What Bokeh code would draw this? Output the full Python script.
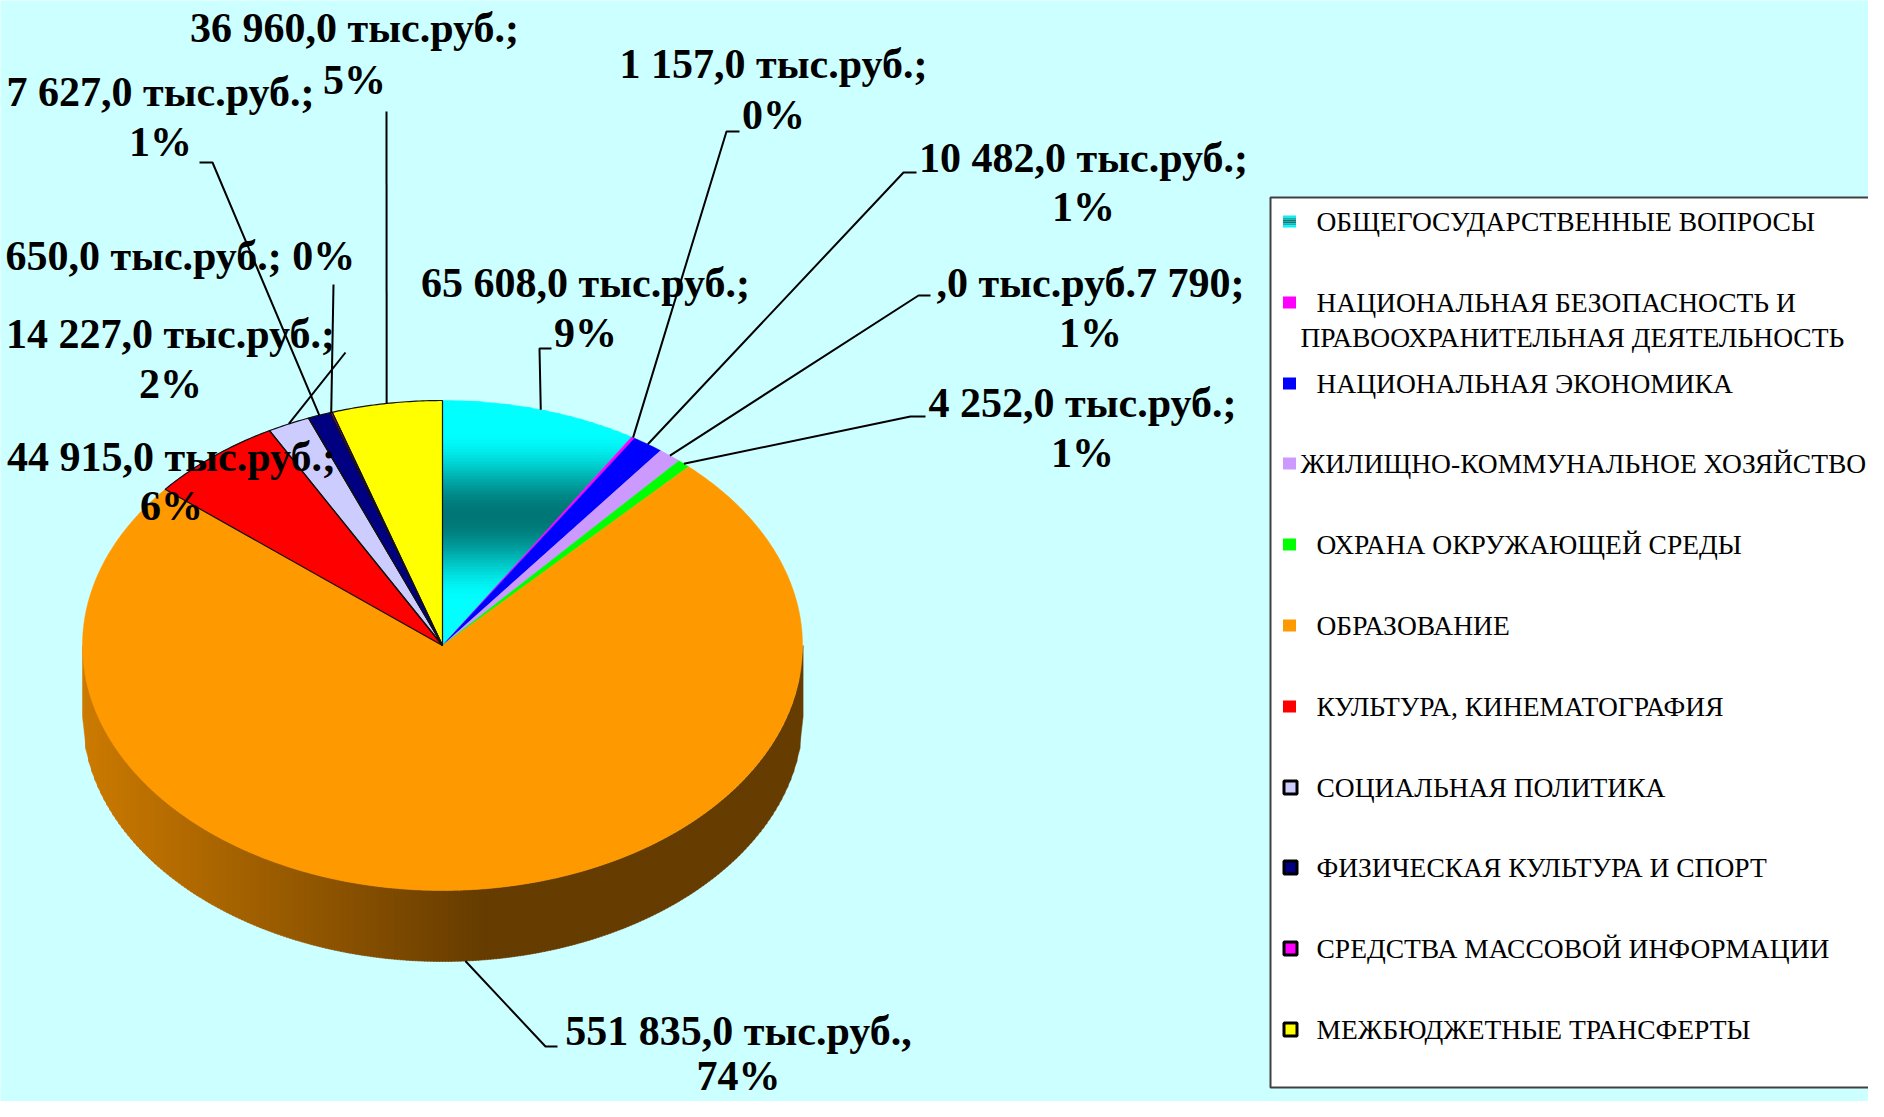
import numpy as np
from bokeh.plotting import figure
from bokeh.models import Range1d
from bokeh.embed import file_html
from bokeh.resources import INLINE
from bokeh.core.properties import value

# ---------------- data ----------------
categories = [
    "ОБЩЕГОСУДАРСТВЕННЫЕ ВОПРОСЫ",
    "НАЦИОНАЛЬНАЯ БЕЗОПАСНОСТЬ И ПРАВООХРАНИТЕЛЬНАЯ ДЕЯТЕЛЬНОСТЬ",
    "НАЦИОНАЛЬНАЯ ЭКОНОМИКА",
    "ЖИЛИЩНО-КОММУНАЛЬНОЕ ХОЗЯЙСТВО",
    "ОХРАНА ОКРУЖАЮЩЕЙ СРЕДЫ",
    "ОБРАЗОВАНИЕ",
    "КУЛЬТУРА, КИНЕМАТОГРАФИЯ",
    "СОЦИАЛЬНАЯ ПОЛИТИКА",
    "ФИЗИЧЕСКАЯ КУЛЬТУРА И СПОРТ",
    "СРЕДСТВА МАССОВОЙ ИНФОРМАЦИИ",
    "МЕЖБЮДЖЕТНЫЕ ТРАНСФЕРТЫ",
]
values = [65608.0, 1157.0, 10482.0, 7790.0, 4252.0, 551835.0,
          44915.0, 14227.0, 7627.0, 650.0, 36960.0]
value_labels = [
    "65 608,0 тыс.руб.;", "1 157,0 тыс.руб.;", "10 482,0 тыс.руб.;",
    ",0 тыс.руб.7 790;", "4 252,0 тыс.руб.;", "551 835,0 тыс.руб.,",
    "44 915,0 тыс.руб.;", "14 227,0 тыс.руб.;", "7 627,0 тыс.руб.;",
    "650,0 тыс.руб.;", "36 960,0 тыс.руб.;",
]
colors = ["#00FFFF", "#FF00FF", "#0000FF", "#CC99FF", "#00FF00", "#FF9900",
          "#FF0000", "#CCCCFF", "#000080", "#FF00FF", "#FFFF00"]

# ---------------- layout / style ----------------
BG = "#CCFFFF"
CX, CY, RX, RY, DEPTH = 442.0, 645.0, 360.0, 245.0, 71.0
LABEL_FONT = value("Liberation Serif")

# label anchor: (x, y of first line, y of percent line)
label_pos = [(585, 282, 332), (773, 63, 114), (1083, 157, 206), (1090, 282, 332),
             (1082, 402, 452), (738, 1030, 1075), (171, 456, 505), (170, 333, 383),
             (160, 91, 141), (5, 255, None), (354, 27, 79)]
single_line = {9}
leader_start = {
    0: [(551, 348), (539, 348)],
    1: [(739, 131), (726, 131)],
    2: [(916, 172), (903, 172)],
    3: [(930, 295), (918, 295)],
    4: [(925, 416), (910, 416)],
    5: [(557, 1046), (545, 1046)],
    7: [(345, 352)],
    8: [(199, 162), (212, 162)],
    9: [(333, 284)],
    10: [(386, 111)],
}

total = sum(values)
pcts = [f"{round(v / total * 100)}%" for v in values]

p = figure(width=1868, height=1101, x_range=Range1d(0, 1868), y_range=Range1d(1101, 0),
           output_backend="svg", toolbar_location=None, min_border=0,
           x_axis_location=None, y_axis_location=None,
           background_fill_color=BG, border_fill_color=BG, outline_line_color=None)
p.grid.visible = False


def hexc(rgb):
    return "#%02x%02x%02x" % tuple(int(round(c)) for c in rgb)


def lerp(a, b, t):
    return tuple(a[i] + (b[i] - a[i]) * t for i in range(3))


def ell(theta_deg, dy=0.0):
    th = np.radians(theta_deg)
    return CX + RX * np.sin(th), CY - RY * np.cos(th) + dy


# ---------- 3D side (horizontal gradient) ----------
def yt(xx):
    return CY + RY * np.sqrt(max(0.0, 1 - ((xx - CX) / RX) ** 2))


side_xs, side_ys, side_cols = [], [], []
step = 3.0
x = CX - RX
while x < CX + RX:
    x2 = min(x + step, CX + RX)
    side_xs.append([x, x2 + 0.6, x2 + 0.6, x])
    side_ys.append([yt(x), yt(x2), yt(x2) + DEPTH, yt(x) + DEPTH])
    t = min(1.0, max(0.0, ((x + x2) / 2 - (CX - RX)) / 400.0))
    side_cols.append(hexc(lerp((204, 122, 0), (102, 60, 0), t)))
    x = x2
p.patches(side_xs, side_ys, fill_color=side_cols, line_color=side_cols, line_width=0.5)

# ---------- top surface slices ----------
cum = np.concatenate([[0], np.cumsum(values)]) / total * 360.0
slice_polys = []
for i in range(len(values)):
    a1, a2 = cum[i], cum[i + 1]
    n = max(4, int((a2 - a1) * 2))
    angs = np.linspace(a1, a2, n)
    px = [CX] + [ell(a)[0] for a in angs]
    py = [CY] + [ell(a)[1] for a in angs]
    slice_polys.append((px, py))


def clip_half(poly, yv, keep_greater):
    out = []
    n = len(poly)
    for k in range(n):
        P, Q = poly[k], poly[(k + 1) % n]
        pin = P[1] >= yv if keep_greater else P[1] <= yv
        qin = Q[1] >= yv if keep_greater else Q[1] <= yv
        if pin:
            out.append(P)
        if pin != qin:
            t = (yv - P[1]) / (Q[1] - P[1])
            out.append((P[0] + t * (Q[0] - P[0]), yv))
    return out


def cyan_grad(y):
    if y <= 516:
        t = (y - 430) / (516 - 430)
    else:
        t = (602 - y) / (602 - 516)
    t = min(1.0, max(0.0, t))
    t = 0.5 - 0.5 * np.cos(np.pi * t)
    return hexc(lerp((0, 255, 255), (0, 118, 118), t))


# gradient slice (index 0)
gx, gy, gc = [], [], []
poly0 = list(zip(*slice_polys[0]))
y = CY - RY - 2
while y < CY + 2:
    band = clip_half(clip_half(poly0, y, True), y + 3.6, False)
    if len(band) >= 3:
        gx.append([b[0] for b in band])
        gy.append([b[1] for b in band])
        gc.append(cyan_grad(y + 1.5))
    y += 3.0
p.patches(gx, gy, fill_color=gc, line_color=gc, line_width=0.5)

plain = [i for i in range(1, len(values))]
p.patches([slice_polys[i][0] for i in plain], [slice_polys[i][1] for i in plain],
          fill_color=[colors[i] for i in plain], line_color=[colors[i] for i in plain],
          line_width=0.5)
outlined = [6, 7, 8, 9, 10]
p.patches([slice_polys[i][0] for i in outlined], [slice_polys[i][1] for i in outlined],
          fill_alpha=0, line_color="#111111", line_width=1.2)

# ---------- data labels ----------
tx, ty, tt, tx2, ty2, tt2 = [], [], [], [], [], []
for i in range(len(values)):
    if i in single_line:
        continue
    x0, b0, b1 = label_pos[i]
    tx.append(x0); ty.append(b0); tt.append(value_labels[i])
    tx2.append(x0); ty2.append(b1); tt2.append(pcts[i])
p.text(x=tx, y=ty, text=tt, text_font=LABEL_FONT, text_font_style="bold",
       text_font_size="42px", text_align="center", text_baseline="alphabetic", text_color="black")
p.text(x=tx2, y=ty2, text=tt2, text_font=LABEL_FONT, text_font_style="bold",
       text_font_size="42px", text_align="center", text_baseline="alphabetic", text_color="black")
for i in single_line:
    x0, b0, _ = label_pos[i]
    p.text(x=[x0], y=[b0], text=[value_labels[i] + " " + pcts[i]], text_font=LABEL_FONT,
           text_font_style="bold", text_font_size="42px", text_align="left",
           text_baseline="alphabetic", text_color="black")

# ---------- leader lines ----------
lx, ly = [], []
for i, pts in leader_start.items():
    am = (cum[i] + cum[i + 1]) / 2
    ex, ey = ell(am, DEPTH if i == 5 else 0.0)
    lx.append([q[0] for q in pts] + [ex])
    ly.append([q[1] for q in pts] + [ey])
p.multi_line(lx, ly, line_color="black", line_width=2)

# ---------- legend ----------
p.quad(left=[1270], right=[1900], top=[197], bottom=[1087], fill_color="white",
       line_color="#404040", line_width=2)
leg_center = [221, 302, 383, 463, 544, 625, 706, 787, 867, 948, 1029]
leg_x = [1316, 1316, 1316, 1300, 1316, 1316, 1316, 1316, 1316, 1316, 1316]
lt_x, lt_y, lt_t = [], [], []
for i, name in enumerate(categories):
    if i == 1:
        a, b = name.split(" ПРАВО")
        lt_x += [leg_x[i], 1300]; lt_y += [leg_center[i], leg_center[i] + 35]
        lt_t += [a, "ПРАВО" + b]
    else:
        lt_x.append(leg_x[i]); lt_y.append(leg_center[i]); lt_t.append(name)
p.text(x=lt_x, y=lt_y, text=lt_t, text_font=LABEL_FONT, text_font_size="27.5px",
       text_align="left", text_baseline="alphabetic", text_color="black")

mk_plain = [1, 2, 3, 4, 5, 6]
p.rect(x=[1289] * len(mk_plain), y=[leg_center[i] for i in mk_plain], width=13, height=12,
       fill_color=[colors[i] for i in mk_plain], line_color=None)
mk_box = [7, 8, 9, 10]
p.rect(x=[1290] * len(mk_box), y=[leg_center[i] for i in mk_box], width=13, height=13,
       fill_color=[colors[i] for i in mk_box], line_color="black", line_width=3)
# gradient marker for first category
gy0 = leg_center[0] - 6
mys = [gy0 + k * 2 + 1 for k in range(6)]
p.rect(x=[1289] * 6, y=mys, width=13, height=2.2,
       fill_color=[cyan_grad(430 + (k + 0.5) / 6 * 172) for k in range(6)], line_color=None)

open("out.html", "w").write(file_html(p, INLINE))
